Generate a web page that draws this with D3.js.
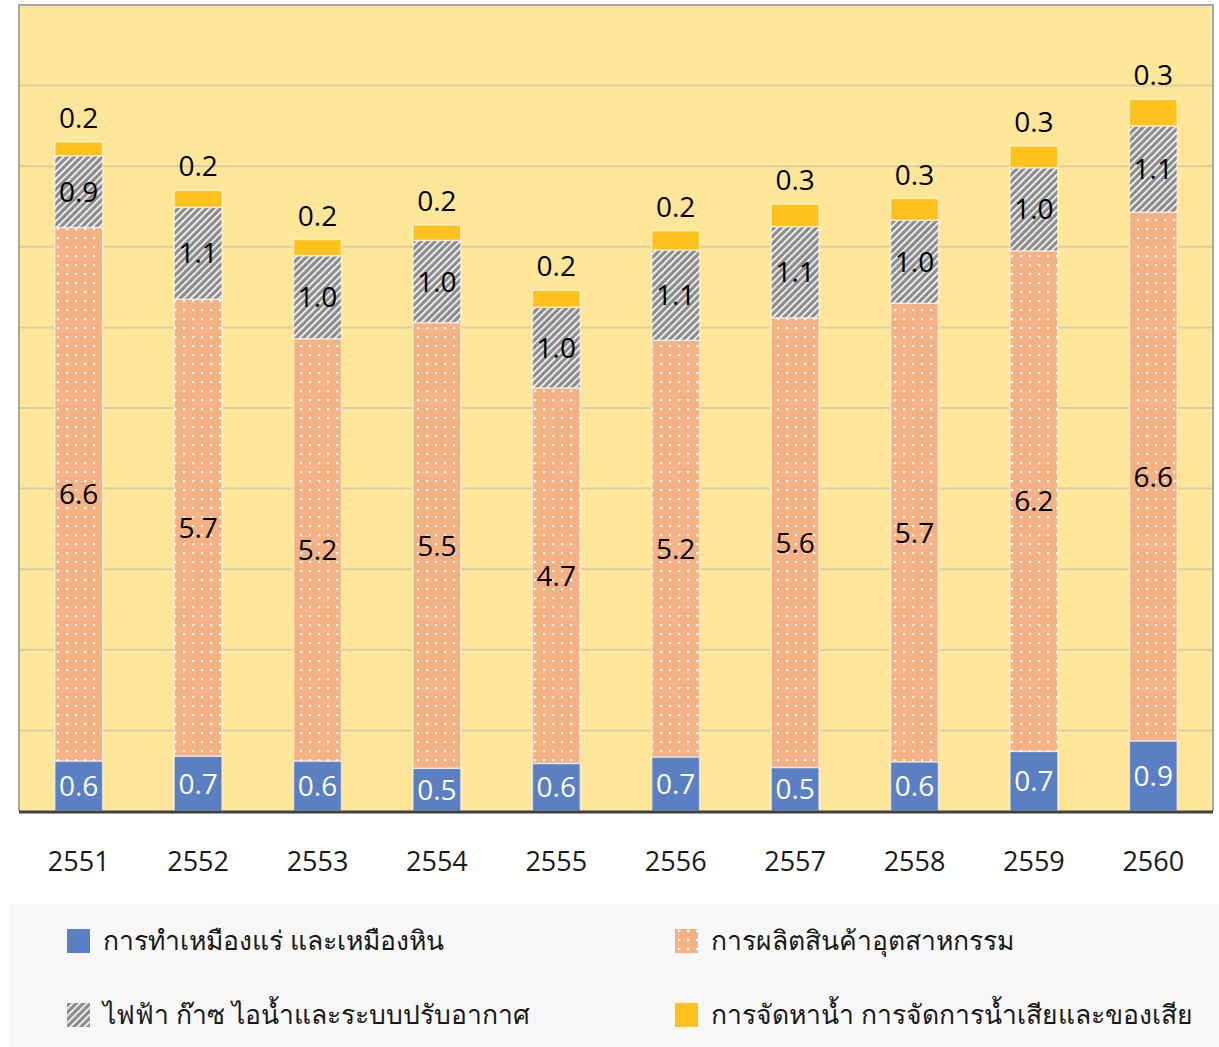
<!DOCTYPE html>
<html>
<head>
<meta charset="utf-8">
<script src="https://cdn.jsdelivr.net/npm/d3@7"></script>
<style>
  html, body { margin: 0; padding: 0; background: #ffffff; }
  svg { display: block; }
  text { font-family: "Open Sans", "Noto Sans", sans-serif; }
</style>
</head>
<body>
<div id="chart"></div>
<script>
// ---- data ----
const years = ["2551", "2552", "2553", "2554", "2555", "2556", "2557", "2558", "2559", "2560"];
const mining        = [0.62, 0.68, 0.62, 0.53, 0.59, 0.67, 0.54, 0.61, 0.74, 0.87];
const manufacturing = [6.62, 5.67, 5.24, 5.53, 4.66, 5.17, 5.58, 5.69, 6.21, 6.56];
const electricity   = [0.89, 1.14, 1.03, 1.02, 1.00, 1.12, 1.13, 1.03, 1.03, 1.07];
const water         = [0.17, 0.21, 0.20, 0.19, 0.21, 0.24, 0.28, 0.27, 0.27, 0.33];
const seriesNames = [
  "การทำเหมืองแร่ และเหมืองหิน",
  "การผลิตสินค้าอุตสาหกรรม",
  "ไฟฟ้า ก๊าซ ไอน้ำและระบบปรับอากาศ",
  "การจัดหาน้ำ การจัดการน้ำเสียและของเสีย"
];
const yTicks = [0, 1, 2, 3, 4, 5, 6, 7, 8, 9, 10];

const W = 1219, H = 1047;
const plot = { left: 19, right: 1213, top: 5, bottom: 811 };

const svg = d3.select("#chart").append("svg").attr("width", W).attr("height", H);

const defs = svg.append("defs");
// hatch pattern
const hatch = defs.append("pattern").attr("id", "hatch").attr("patternUnits", "userSpaceOnUse")
  .attr("width", 5).attr("height", 5).attr("patternTransform", "rotate(45)");
hatch.append("rect").attr("width", 5).attr("height", 5).attr("fill", "#8c8c8c");
hatch.append("rect").attr("x", 0).attr("y", 0).attr("width", 1.6).attr("height", 5).attr("fill", "#ffffff");
// dots pattern
const dots = defs.append("pattern").attr("id", "dots").attr("patternUnits", "userSpaceOnUse")
  .attr("width", 9).attr("height", 9);
dots.append("rect").attr("width", 9).attr("height", 9).attr("fill", "#f4b183");
dots.append("rect").attr("x", 3).attr("y", 3).attr("width", 2.2).attr("height", 2.2).attr("fill", "#ffffff");

const fills = ["#5b7fc3", "url(#dots)", "url(#hatch)", "#ffc21d"];
const legendFills = ["#5b7fc3", "url(#dots)", "url(#hatch)", "#ffc21d"];

const x = d3.scaleBand().domain(years).range([plot.left, plot.right]).paddingInner(0.6).paddingOuter(0.3);
const y = d3.scaleLinear().domain([0, 10]).range([plot.bottom, plot.top]);

// plot background
svg.append("rect").attr("x", plot.left).attr("y", plot.top)
  .attr("width", plot.right - plot.left).attr("height", plot.bottom - plot.top)
  .attr("fill", "#ffe699");

// gridlines
svg.append("g").selectAll("line").data(yTicks.filter(t => t > 0 && t < 10)).join("line")
  .attr("x1", plot.left).attr("x2", plot.right)
  .attr("y1", d => y(d)).attr("y2", d => y(d))
  .attr("stroke", "#d9cfa6").attr("stroke-width", 2);

// border
svg.append("path")
  .attr("d", `M${plot.left},${plot.bottom} V${plot.top} H${plot.right} V${plot.bottom}`)
  .attr("fill", "none").attr("stroke", "#a6a6a6").attr("stroke-width", 2);

// stack
const rows = years.map((yr, i) => ({ year: yr, s0: mining[i], s1: manufacturing[i], s2: electricity[i], s3: water[i] }));
const stack = d3.stack().keys(["s0", "s1", "s2", "s3"])(rows);

const gBars = svg.append("g");
stack.forEach((layer, li) => {
  gBars.append("g").selectAll("rect").data(layer).join("rect")
    .attr("x", d => x(d.data.year))
    .attr("width", x.bandwidth())
    .attr("y", d => y(d[1]))
    .attr("height", d => y(d[0]) - y(d[1]))
    .attr("fill", fills[li])
    .attr("stroke", "rgba(255,255,255,0.55)")
    .attr("stroke-width", 1.5);
});

// labels
const gLab = svg.append("g").attr("font-size", 28).attr("text-anchor", "middle");
stack.forEach((layer, li) => {
  gLab.append("g").selectAll("text").data(layer).join("text")
    .attr("x", d => x(d.data.year) + x.bandwidth() / 2)
    .attr("y", d => li === 3 ? y(d[1]) - 24 : (y(d[0]) + y(d[1])) / 2)
    .attr("dy", "0.36em")
    .attr("fill", li === 0 ? "#ffffff" : "#000000")
    .text(d => (d[1] - d[0]).toFixed(1));
});

// x axis
const xAxis = d3.axisBottom(x).tickSize(0).tickPadding(0);
const gx = svg.append("g").attr("transform", `translate(0,${plot.bottom})`).call(xAxis);
gx.select(".domain").remove();
gx.selectAll("text").attr("font-size", 27).attr("fill", "#1a1a1a").attr("dy", "0").attr("y", 60)
  .attr("font-family", "Open Sans, Noto Sans, sans-serif");
svg.append("line").attr("x1", plot.left).attr("x2", plot.right)
  .attr("y1", plot.bottom + 1).attr("y2", plot.bottom + 1)
  .attr("stroke", "#404040").attr("stroke-width", 3);

// legend
svg.append("rect").attr("x", 10).attr("y", 904).attr("width", W - 10).attr("height", H - 904).attr("fill", "#f7f7f7");
const legendPos = [
  { x: 67, y: 941 }, { x: 675, y: 941 }, { x: 67, y: 1015 }, { x: 675, y: 1015 }
];
const gLeg = svg.append("g");
seriesNames.forEach((name, i) => {
  const p = legendPos[i];
  gLeg.append("rect").attr("x", p.x).attr("y", p.y - 12).attr("width", 23).attr("height", 24)
    .attr("fill", legendFills[i]);
  gLeg.append("text").attr("x", p.x + 36).attr("y", p.y).attr("dy", "0.35em")
    .attr("font-size", 26.5).attr("fill", "#1a1a1a").text(name);
});
</script>
</body>
</html>
